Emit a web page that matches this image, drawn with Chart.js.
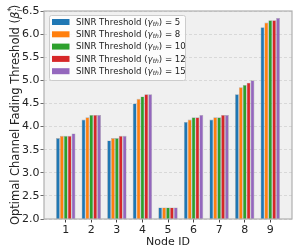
<!DOCTYPE html>
<html>
<head>
<meta charset="utf-8">
<script src="https://cdn.jsdelivr.net/npm/chart.js@4.4.0/dist/chart.umd.min.js"></script>
<style>
  html, body { margin: 0; padding: 0; background: #fff; }
  canvas { display: block; }
</style>
</head>
<body>
<canvas id="chart" width="300" height="249"></canvas>
<script>
// values
const nodes = [1, 2, 3, 4, 5, 6, 7, 8, 9];
const thresholds = [5, 8, 10, 12, 15];
const gamma5  = [3.75, 4.15, 3.70, 4.50, 2.25, 4.10, 4.15, 4.70, 6.15];
const gamma8  = [3.80, 4.20, 3.75, 4.60, 2.25, 4.15, 4.20, 4.85, 6.25];
const gamma10 = [3.80, 4.25, 3.75, 4.65, 2.25, 4.20, 4.20, 4.90, 6.30];
const gamma12 = [3.80, 4.25, 3.80, 4.70, 2.25, 4.20, 4.25, 4.95, 6.30];
const gamma15 = [3.85, 4.25, 3.80, 4.70, 2.25, 4.25, 4.25, 5.00, 6.35];
const colors = ['#1f77b4', '#ff7f0e', '#2ca02c', '#d62728', '#9467bd'];

const series = [gamma5, gamma8, gamma10, gamma12, gamma15];
const FONT = 'DejaVu Sans';

// plot background + frame
const frame = {
    id: 'frame',
    beforeDraw(chart) {
        const a = chart.chartArea, ctx = chart.ctx;
        ctx.save();
        ctx.fillStyle = '#f0f0f0';
        ctx.fillRect(a.left, a.top, a.right - a.left, a.bottom - a.top);
        ctx.restore();
    },
    afterDatasetsDraw(chart) {
        const a = chart.chartArea, ctx = chart.ctx;
        ctx.save();
        ctx.strokeStyle = '#b0b0b0';
        ctx.lineWidth = 1.2;
        ctx.strokeRect(a.left, a.top, a.right - a.left, a.bottom - a.top);
        ctx.restore();
    }
};

// draw a run of text pieces: [text, sizeScale, dy(em), italic, noAdvance]
function drawRuns(ctx, runs, x, y, size) {
    let cx = x;
    runs.forEach(r => {
        const s = size * r[1];
        ctx.font = (r[3] ? 'italic ' : '') + s + 'px "' + FONT + '"';
        ctx.fillText(r[0], cx, y + r[2] * size);
        if (!r[4]) cx += ctx.measureText(r[0]).width;
    });
    return cx - x;
}
function runsWidth(ctx, runs, size) {
    let w = 0;
    runs.forEach(r => {
        ctx.font = (r[3] ? 'italic ' : '') + size * r[1] + 'px "' + FONT + '"';
        if (!r[4]) w += ctx.measureText(r[0]).width;
    });
    return w;
}

// legend inside plot + y axis title with sub/superscripts
const labels = {
    id: 'labels',
    afterDraw(chart) {
        const a = chart.chartArea, ctx = chart.ctx;
        ctx.save();
        // legend box
        const lx = 49, ly = 15, lw = 136, lh = 65;
        ctx.fillStyle = 'rgba(255,255,255,0.8)';
        ctx.strokeStyle = '#cccccc';
        ctx.lineWidth = 1;
        ctx.beginPath();
        ctx.roundRect(lx + 0.5, ly + 0.5, lw, lh, 2);
        ctx.fill();
        ctx.stroke();
        ctx.textBaseline = 'middle';
        chart.data.datasets.forEach((ds, i) => {
            const cy = 22 + i * 12.3;
            ctx.fillStyle = ds.backgroundColor;
            ctx.fillRect(52, cy - 3, 17.5, 6);
            ctx.fillStyle = '#222';
            drawRuns(ctx, [
                ['SINR Threshold (', 1, 0, false],
                ['\u03b3', 1, 0, true],
                ['th', 0.7, 0.2, true],
                [') = ' + thresholds[i], 1, 0, false]
            ], 76, cy + 0.5, 8.6);
        });
        // y title
        const size = 11.5;
        const runs = [
            ['Optimal Channel Fading Threshold (', 1, 0, false],
            ['\u03b2', 1, 0, true],
            ['*', 0.7, -0.4, false, true],
            ['i', 0.7, 0.25, true],
            [')', 1, 0, false]
        ];
        const w = runsWidth(ctx, runs, size);
        ctx.translate(19, (a.top + a.bottom) / 2);
        ctx.rotate(-Math.PI / 2);
        ctx.textBaseline = 'alphabetic';
        ctx.fillStyle = '#222';
        drawRuns(ctx, runs, -w / 2, 0, size);
        ctx.restore();
    }
};

new Chart(document.getElementById('chart'), {
    type: 'bar',
    data: {
        datasets: series.map((vals, k) => ({
            label: 'SINR Threshold (\u03b3th) = ' + thresholds[k],
            data: nodes.map((n, i) => ({ x: n, y: vals[i] })),
            backgroundColor: colors[k],
            borderColor: 'rgba(120,120,120,0.55)',
            borderWidth: 0.6,
            categoryPercentage: 0.76,
            barPercentage: 1.0
        }))
    },
    options: {
        responsive: false,
        animation: false,
        layout: { padding: { left: 0, right: 8, top: 11, bottom: 0 } },
        plugins: {
            legend: { display: false },
            tooltip: { enabled: false }
        },
        scales: {
            x: {
                type: 'linear',
                offset: false,
                min: 0.15,
                max: 9.85,
                afterBuildTicks: s => { s.ticks = nodes.map(v => ({ value: v })); },
                afterFit: s => { s.height = 30; },
                grid: { offset: false, drawOnChartArea: false, drawTicks: true, tickLength: 3.5, tickColor: '#444' },
                border: { display: false },
                ticks: {
                    padding: 1,
                    color: '#222',
                    font: { family: FONT, size: 11 },
                    maxRotation: 0,
                    callback: v => String(v)
                },
                title: {
                    display: true,
                    text: 'Node ID',
                    color: '#222',
                    padding: { top: 0, bottom: 0 },
                    font: { family: FONT, size: 11 }
                }
            },
            y: {
                min: 2,
                max: 6.5,
                afterFit: s => { s.width = 44; },
                grid: { color: '#d2d2d2', lineWidth: 0.8, tickLength: 3.5, tickColor: '#444' },
                border: { display: false, dash: [3, 2] },
                ticks: {
                    stepSize: 0.5,
                    padding: 1,
                    color: '#222',
                    font: { family: FONT, size: 11 },
                    callback: v => v.toFixed(1)
                }
            }
        }
    },
    plugins: [frame, labels]
});
</script>
</body>
</html>
